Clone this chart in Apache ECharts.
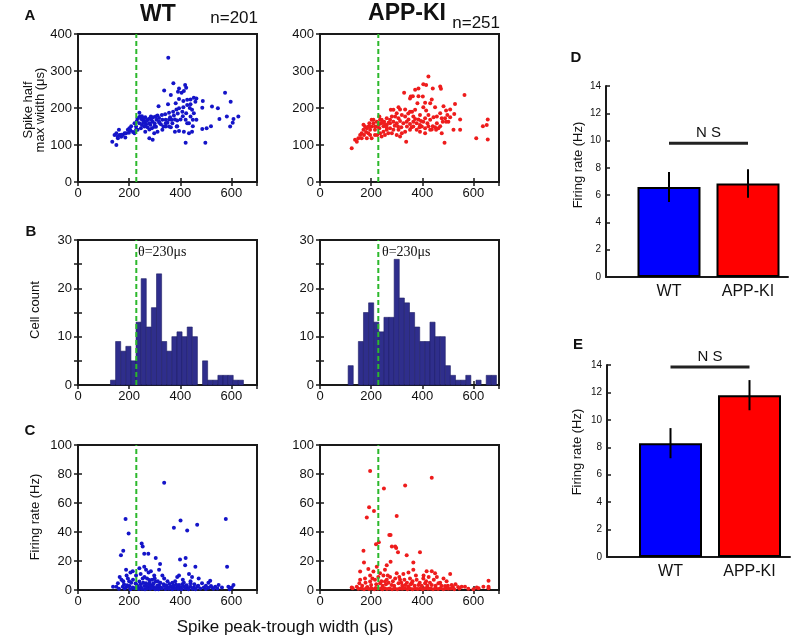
<!DOCTYPE html>
<html><head><meta charset="utf-8">
<script src="https://cdn.jsdelivr.net/npm/echarts@6/dist/echarts.min.js"></script>
<style>html,body{margin:0;padding:0;background:#fff}#c{width:797px;height:644px}</style>
</head><body><div id="c"></div>
<script>
// ---------------- DATA ----------------
const threshold = 228;          // spike width threshold (μs)
const xTicksMax = 700;

// Panel A: spike peak-trough width (μs) vs spike half max width (μs)
const wtHalfWidth = [[353,336],[373,267],[395,253],[419,262],[423,255],[337,247],[363,235],[391,244],[405,241],[414,246],[575,241],[597,217],[453,228],[463,226],[440,223],[427,222],[488,219],[395,224],[412,219],[352,210],[382,213],[315,205],[486,201],[524,204],[547,199],[412,202],[437,200],[446,195],[453,186],[423,186],[408,190],[385,196],[372,190],[356,187],[341,183],[328,181],[311,180],[294,175],[285,177],[279,171],[263,175],[272,168],[253,168],[240,187],[242,177],[250,178],[261,163],[266,156],[279,159],[292,163],[307,168],[317,163],[324,156],[330,168],[334,150],[343,168],[356,169],[366,168],[379,169],[388,166],[401,169],[421,168],[434,159],[449,168],[363,148],[386,150],[395,138],[414,136],[434,132],[446,136],[449,151],[421,106],[498,106],[486,143],[503,145],[520,151],[553,170],[582,177],[608,170],[595,150],[605,160],[627,177],[305,149],[289,145],[298,149],[279,142],[263,136],[272,148],[259,150],[246,145],[233,141],[227,150],[221,159],[240,159],[250,154],[263,151],[233,172],[227,141],[221,132],[208,151],[201,145],[195,141],[182,132],[175,127],[163,127],[160,141],[150,132],[143,127],[156,118],[150,100],[134,109],[169,122],[188,132],[199,133],[279,118],[292,114],[298,132],[311,136],[330,141],[343,150],[356,150],[369,159],[379,136],[388,151],[343,159],[304,177],[317,173],[395,199],[427,208],[440,210],[459,217],[463,168],[440,177],[427,159],[255,160],[268,165],[283,155],[300,158],[318,160],[247,170],[258,172],[287,168],[205,140],[215,135],[230,165],[350,160],[360,175],[375,180],[390,185],[410,178],[155,122],[170,128],[185,120]];
const appHalfWidth = [[424,285],[404,264],[415,262],[385,253],[372,249],[441,253],[470,258],[473,252],[329,241],[355,231],[363,232],[352,226],[385,232],[402,231],[565,235],[437,223],[411,214],[381,213],[431,213],[528,211],[277,195],[307,202],[313,196],[333,196],[352,190],[372,195],[404,202],[415,193],[450,202],[483,205],[493,193],[509,196],[498,181],[525,184],[470,186],[457,177],[476,172],[444,175],[424,181],[431,168],[411,172],[391,181],[385,169],[365,177],[346,169],[333,177],[320,181],[307,172],[294,177],[281,177],[274,168],[261,172],[251,163],[241,168],[232,177],[238,159],[248,151],[261,154],[274,159],[287,163],[300,159],[313,165],[326,159],[339,163],[352,157],[365,163],[378,159],[391,154],[404,163],[420,159],[441,151],[457,159],[470,151],[480,163],[489,172],[502,163],[509,175],[548,169],[548,141],[487,106],[611,118],[637,151],[652,154],[656,169],[656,115],[391,136],[398,150],[411,145],[424,151],[437,142],[450,148],[463,145],[454,141],[337,109],[333,136],[320,132],[307,141],[300,127],[287,141],[281,132],[274,145],[261,141],[248,136],[235,132],[232,145],[224,150],[224,127],[215,141],[209,159],[209,168],[202,150],[196,141],[189,132],[183,145],[176,150],[170,141],[163,132],[172,127],[157,127],[150,118],[163,118],[144,109],[137,114],[124,91],[183,118],[196,127],[202,118],[215,127],[241,123],[254,127],[267,132],[313,123],[352,141],[365,150],[378,141],[389,148],[193,159],[202,168],[222,163],[235,168],[215,150],[287,195],[300,186],[522,141],[493,163],[431,141],[411,132],[476,132],[255,155],[268,160],[292,152],[305,150],[318,148],[340,150],[358,148],[372,170],[395,165],[230,155],[245,160],[260,148],[180,135],[190,150],[170,155],[345,185],[360,190]];

// Panel B: histogram of spike peak-trough width (20 μs bins, centres)
const wtBinCenters = [137,157,177,197,217,237,257,277,297,317,337,357,377,397,417,437,457,477,497,517,537,557,577,597,617,637];
const wtCounts     = [1,9,7,8,5,13,22,12,16,23,9,7,10,11,10,12,10,0,5,1,1,2,2,2,1,1];
const appBinCenters = [120,140,160,180,200,220,240,260,280,300,320,340,360,380,400,420,440,460,480,500,520,540,560,580,600,620,640,660,680];
const appCounts     = [4,0,9,15,17,13,11,14,14,26,18,17,15,12,9,9,13,10,10,4,2,1,1,2,0,1,0,2,2];
const binWidth = 20;

// Panel C: spike peak-trough width (μs) vs firing rate (Hz)
const wtRate = [[337,74],[401,48],[375,43],[427,41],[466,45],[578,49],[186,49],[198,39],[177,27],[168,24],[249,32],[253,30],[259,25],[275,25],[304,22],[321,18],[399,21],[421,22],[419,17],[459,16],[583,16],[188,14],[214,13],[227,10],[163,9],[170,7],[177,6],[195,8],[208,5],[240,15],[259,16],[266,14],[276,12],[285,13],[298,10],[317,14],[330,10],[337,8],[350,6],[388,9],[434,11],[446,9],[472,8],[369,5],[395,3.5],[414,5],[440,4.6],[485,4.6],[517,6.4],[550,3.5],[608,3.5],[601,1.8],[240,5.8],[253,8],[266,4.6],[279,6.9],[292,3.5],[304,5.8],[317,3.5],[150,2.3],[137,2.3],[156,4.6],[175,2.3],[188,1.8],[201,2.8],[214,1.8],[234,2.3],[246,1.8],[259,2.8],[272,1.8],[285,2.3],[298,1.8],[311,2.3],[324,1.8],[337,2.8],[350,1.8],[363,2.3],[375,1.8],[388,2.3],[401,1.8],[414,2.3],[427,1.8],[440,2.3],[453,1.8],[466,2.3],[492,1.8],[524,1.8],[537,2.3],[563,1.8],[588,2.3],[160,0.8],[182,1],[205,0.6],[222,1.2],[238,0.7],[250,0.9],[262,0.5],[270,1.1],[282,0.8],[290,1.3],[302,0.6],[308,1],[315,0.5],[328,1.2],[342,0.7],[355,0.9],[368,0.5],[380,1],[392,0.7],[405,0.6],[420,1.1],[432,0.5],[448,0.8],[460,0.6],[478,1],[500,0.7],[510,1.5],[530,0.8],[545,1],[593,0.6],[230,3.5],[245,4],[268,3],[280,3.8],[295,4.5],[310,3],[322,5],[335,4],[345,3.2],[358,4.2],[372,3],[383,3.8],[408,4],[425,3.2],[180,4],[192,3.2],[200,6],[215,7],[225,4.5],[190,10],[205,12],[260,9],[270,8],[290,7],[300,8],[312,6],[280,5],[245,11],[255,5],[410,7],[395,10],[380,6],[440,6],[455,4],[470,3],[500,3],[520,2.8],[510,5]];
const appRate = [[196,82],[437,77.5],[250,70],[333,72],[192,57],[211,54.5],[183,50],[300,51],[271,38],[276,38],[391,26],[170,27],[219,31.5],[230,33],[294,30],[298,29],[305,26],[281,30],[339,24],[172,19],[276,19.5],[365,19],[261,17],[254,14],[189,14.5],[209,12.7],[222,16],[157,12.7],[196,10],[235,11.5],[248,10],[274,9],[300,11.5],[326,11],[346,12],[365,14],[417,13],[437,13],[450,11.5],[509,11],[483,8],[457,9],[404,8],[378,7],[352,8],[313,7],[294,8],[261,7],[176,8],[157,7],[196,5.8],[215,7],[235,4.6],[254,5.8],[280,3.5],[307,4.6],[333,3.5],[359,4.6],[385,3.5],[411,4.6],[437,3.5],[463,4.6],[489,2.8],[515,3.5],[554,2.3],[567,2.3],[613,1.8],[620,1.2],[659,6.4],[659,2.3],[659,1.2],[639,2.3],[124,1.8],[128,1.2],[144,2.3],[154,4.6],[165,3],[178,5],[185,2],[200,3.5],[205,8],[220,4],[228,9],[240,6],[245,3],[258,4],[265,10],[268,5],[285,6],[290,3],[310,9],[318,5],[322,3],[330,7],[340,5],[345,2.5],[355,4],[362,6],[370,3],[375,10],[390,5],[398,3],[405,10],[415,6],[420,3],[425,9],[430,5],[445,7],[452,3],[470,5],[475,3],[495,6],[500,3],[520,2],[530,4],[540,2],[150,0.8],[162,1],[172,0.5],[182,1.2],[192,0.7],[202,1],[212,0.5],[218,1.3],[226,0.8],[238,1],[244,0.5],[252,1.2],[262,0.7],[272,1],[282,0.6],[292,1.1],[302,0.5],[312,1],[322,0.8],[332,1.2],[342,0.6],[352,1],[362,0.5],[372,1.1],[382,0.7],[392,1],[402,0.6],[412,1.2],[422,0.8],[432,1],[442,0.5],[452,1],[462,0.7],[472,1.2],[482,0.6],[492,1],[502,0.8],[512,1],[525,0.6],[545,1],[580,0.8],[600,0.5]];

// Panels D & E: mean firing rate (Hz) with error
const groups = ['WT', 'APP-KI'];
const dMeans = [6.6, 6.85];
const dErrs  = [1.1, 1.05];
const dNsY   = 9.8;
const eMeans = [8.3, 11.8];
const eErrs  = [1.1, 1.1];
const eNsY   = 13.85;

// ---------------- STYLE / LAYOUT ----------------
const FONT = "'Liberation Sans', Arial, sans-serif";
const BLUE_DOT = '#1414c8', RED_DOT = '#ee1c1c', NAVY = '#2f2e8c', GREEN = '#2cb82c';
const grids = [], xAxes = [], yAxes = [], series = [];

function framedPanel(rect, yMax, yInt, yFmt) {
  const gi = grids.length;
  grids.push({left: rect[0], top: rect[1], width: rect[2], height: rect[3], show: true,
    borderColor: '#1a1a1a', borderWidth: 2, backgroundColor: 'transparent', containLabel: false, outerBoundsMode: 'none'});
  const tick = {show: true, inside: true, length: 4, lineStyle: {color: '#1a1a1a', width: 1.5}};
  const xi = xAxes.length, yi = yAxes.length;
  xAxes.push({type: 'value', gridIndex: gi, position: 'bottom', min: 0, max: xTicksMax, interval: 200,
    axisLine: {show: false}, axisTick: tick, splitLine: {show: false},
    axisLabel: {show: true, showMaxLabel: false, color: '#111', fontFamily: FONT, fontSize: 13, margin: 5,
      formatter: v => (v % 200 === 0 ? String(v) : '')}});
  xAxes.push({type: 'value', gridIndex: gi, position: 'top', min: 0, max: xTicksMax, interval: 200,
    axisLine: {show: false}, axisTick: tick, splitLine: {show: false}, axisLabel: {show: false}});
  yAxes.push({type: 'value', gridIndex: gi, position: 'left', min: 0, max: yMax, interval: yInt,
    axisLine: {show: false}, axisTick: tick, splitLine: {show: false},
    axisLabel: {show: true, color: '#111', fontFamily: FONT, fontSize: 13, margin: 6, formatter: yFmt}});
  yAxes.push({type: 'value', gridIndex: gi, position: 'right', min: 0, max: yMax, interval: yInt,
    axisLine: {show: false}, axisTick: tick, splitLine: {show: false}, axisLabel: {show: false}});
  // threshold line
  series.push({type: 'line', xAxisIndex: xi, yAxisIndex: yi, data: [[threshold, 0], [threshold, yMax]],
    showSymbol: false, silent: true, z: 5, lineStyle: {color: GREEN, width: 2, type: [5, 3]}});
  return {xi, yi};
}

function scatterSeries(ax, data, color) {
  series.push({type: 'scatter', xAxisIndex: ax.xi, yAxisIndex: ax.yi, data, symbolSize: 4,
    itemStyle: {color, opacity: 1}, silent: true, z: 3});
}
function histSeries(ax, centers, counts) {
  series.push({type: 'custom', xAxisIndex: ax.xi, yAxisIndex: ax.yi, silent: true, z: 2,
    data: centers.map((c, i) => [c, counts[i]]),
    renderItem: (params, api) => {
      const c = api.value(0), n = api.value(1);
      if (!n) return null;
      const p0 = api.coord([c - binWidth / 2, n]);
      const p1 = api.coord([c + binWidth / 2, 0]);
      return {type: 'rect', shape: {x: p0[0], y: p0[1], width: p1[0] - p0[0], height: p1[1] - p0[1]},
        style: {fill: NAVY, stroke: '#1f1e66', lineWidth: 0.6}};
    }});
}

const axA1 = framedPanel([78, 34, 179, 148], 400, 100, v => String(v));
const axA2 = framedPanel([320, 34, 179, 148], 400, 100, v => String(v));
const axB1 = framedPanel([78, 240, 179, 145], 30, 5, v => (v % 10 === 0 ? String(v) : ''));
const axB2 = framedPanel([320, 240, 179, 145], 30, 5, v => (v % 10 === 0 ? String(v) : ''));
const axC1 = framedPanel([78, 445, 179, 145], 100, 20, v => String(v));
const axC2 = framedPanel([320, 445, 179, 145], 100, 20, v => String(v));

scatterSeries(axA1, wtHalfWidth, BLUE_DOT);
scatterSeries(axA2, appHalfWidth, RED_DOT);
histSeries(axB1, wtBinCenters, wtCounts);
histSeries(axB2, appBinCenters, appCounts);
scatterSeries(axC1, wtRate, BLUE_DOT);
scatterSeries(axC2, appRate, RED_DOT);

function barPanel(axisRect, barRect, means, errs, nsY) {
  // axis frame grid
  let gi = grids.length;
  grids.push({left: axisRect[0], top: axisRect[1], width: axisRect[2], height: axisRect[3], containLabel: false, outerBoundsMode: 'none'});
  xAxes.push({type: 'value', gridIndex: gi, min: 0, max: 1, axisLine: {show: true, lineStyle: {color: '#1a1a1a', width: 2}},
    axisTick: {show: false}, axisLabel: {show: false}, splitLine: {show: false}});
  yAxes.push({type: 'value', gridIndex: gi, min: 0, max: 14, interval: 2,
    axisLine: {show: true, lineStyle: {color: '#1a1a1a', width: 2}},
    axisTick: {show: true, inside: true, length: 4, lineStyle: {color: '#1a1a1a', width: 1.5}},
    axisLabel: {color: '#111', fontFamily: FONT, fontSize: 10, margin: 5}, splitLine: {show: false}});
  // bars grid
  gi = grids.length;
  grids.push({left: barRect[0], top: barRect[1], width: barRect[2], height: barRect[3], containLabel: false, outerBoundsMode: 'none'});
  const xi = xAxes.length, yi = yAxes.length;
  xAxes.push({type: 'category', gridIndex: gi, data: groups, axisLine: {show: false}, axisTick: {show: false},
    axisLabel: {color: '#111', fontFamily: FONT, fontSize: 16, margin: 7}});
  yAxes.push({type: 'value', gridIndex: gi, min: 0, max: 14, show: false});
  const colors = ['#0000ff', '#ff0000'];
  series.push({type: 'bar', xAxisIndex: xi, yAxisIndex: yi, barWidth: 63, silent: true, z: 2,
    data: means.map((m, i) => ({value: m, itemStyle: {color: colors[i], borderColor: '#000', borderWidth: 2}}))});
  series.push({type: 'custom', xAxisIndex: xi, yAxisIndex: yi, silent: true, z: 4,
    data: means.map((m, i) => [i, m - errs[i], m + errs[i]]),
    renderItem: (p, api) => {
      const a = api.coord([api.value(0), api.value(1)]), b = api.coord([api.value(0), api.value(2)]);
      return {type: 'line', shape: {x1: a[0], y1: a[1], x2: b[0], y2: b[1]}, style: {stroke: '#000', lineWidth: 2}};
    }});
  series.push({type: 'custom', xAxisIndex: xi, yAxisIndex: yi, silent: true, z: 4,
    data: [[0, 1, nsY]],
    renderItem: (p, api) => {
      const a = api.coord([api.value(0), api.value(2)]), b = api.coord([api.value(1), api.value(2)]);
      return {type: 'group', children: [
        {type: 'line', shape: {x1: a[0], y1: a[1], x2: b[0], y2: b[1]}, style: {stroke: '#222', lineWidth: 3}},
        {type: 'text', x: (a[0] + b[0]) / 2, y: a[1] - 10,
          style: {text: 'N S', fill: '#111', font: '15px ' + FONT, align: 'center', verticalAlign: 'middle'}}]};
    }});
}
barPanel([606, 86, 182, 191], [629.5, 86, 158, 191], dMeans, dErrs, dNsY);
barPanel([607, 365, 183, 192], [631, 365, 158, 192], eMeans, eErrs, eNsY);

function txt(x, y, text, size, opts) {
  opts = opts || {};
  return {type: 'text', x, y, rotation: opts.rot || 0, silent: true,
    style: {text, fill: '#111', font: (opts.bold ? 'bold ' : '') + size + 'px ' + (opts.family || FONT),
      align: opts.align || 'center', verticalAlign: 'middle'}};
}
const R = Math.PI / 2;
const SERIF = "'Liberation Serif', 'DejaVu Serif', serif";
const graphics = [
  txt(30, 16, 'A', 15, {bold: true}), txt(31, 232, 'B', 15, {bold: true}), txt(30, 431, 'C', 15, {bold: true}),
  txt(576, 58, 'D', 15, {bold: true}), txt(578, 345, 'E', 15, {bold: true}),
  txt(158, 15, 'WT', 23, {bold: true}), txt(407, 14, 'APP-KI', 23, {bold: true}),
  txt(258, 18, 'n=201', 17, {align: 'right'}), txt(500, 23, 'n=251', 17, {align: 'right'}),
  txt(28, 110, 'Spike half', 13, {rot: R}), txt(40, 110, 'max width (\u03bcs)', 13, {rot: R}),
  txt(35, 310, 'Cell count', 13, {rot: R}), txt(35, 517, 'Firing rate (Hz)', 13, {rot: R}),
  txt(578, 165, 'Firing rate (Hz)', 13, {rot: R}), txt(577, 452, 'Firing rate (Hz)', 13, {rot: R}),
  txt(138, 252, '\u03b8=230\u03bcs', 14, {align: 'left', family: SERIF}),
  txt(382, 252, '\u03b8=230\u03bcs', 14, {align: 'left', family: SERIF}),
  txt(285, 627, 'Spike peak-trough width (\u03bcs)', 17)
];

const chart = echarts.init(document.getElementById('c'), null, {renderer: 'canvas'});
chart.setOption({animation: false, backgroundColor: '#fff', grid: grids, xAxis: xAxes, yAxis: yAxes,
  series, graphic: graphics});
</script></body></html>
